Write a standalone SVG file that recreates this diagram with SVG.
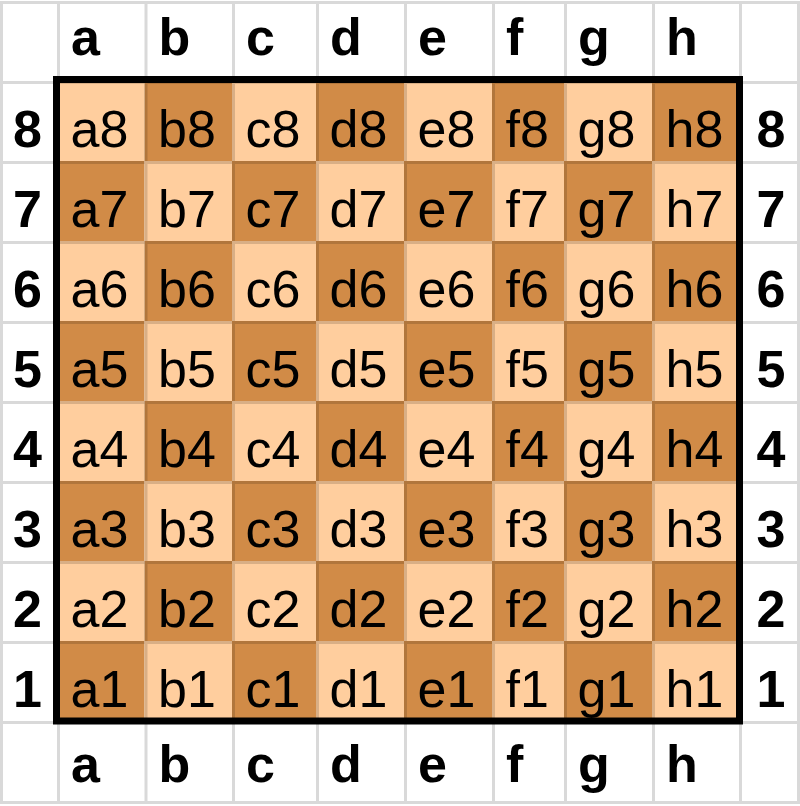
<svg xmlns="http://www.w3.org/2000/svg" width="800" height="806" viewBox="0 0 800 806">
<style>
  .L{fill:#ffce9e}
  .D{fill:#d18b47}
  .t{font-family:"Liberation Sans",Arial,sans-serif;font-size:52px;fill:#000}
  .lb{font-family:"Liberation Sans",Arial,sans-serif;font-size:52px;font-weight:bold;fill:#000}
  .mid{text-anchor:middle}
  .grid{fill:none;stroke:#000;stroke-opacity:0.15;stroke-width:3}
  .border{fill:none;stroke:#000;stroke-width:7}
</style>
<rect x="0" y="0" width="800" height="806" fill="#fff"/>
<g id="board">
<g id="rank8" transform="translate(0,81)">
<g id="a8"><rect class="L" x="57" y="0" width="87.5" height="80"/><text class="t" x="70.5" y="66">a8</text></g>
<g id="b8"><rect class="D" x="144.5" y="0" width="87.5" height="80"/><text class="t" x="158" y="66">b8</text></g>
<g id="c8"><rect class="L" x="232" y="0" width="84" height="80"/><text class="t" x="245.5" y="66">c8</text></g>
<g id="d8"><rect class="D" x="316" y="0" width="88" height="80"/><text class="t" x="329.5" y="66">d8</text></g>
<g id="e8"><rect class="L" x="404" y="0" width="88" height="80"/><text class="t" x="417.5" y="66">e8</text></g>
<g id="f8"><rect class="D" x="492" y="0" width="72" height="80"/><text class="t" x="505.5" y="66">f8</text></g>
<g id="g8"><rect class="L" x="564" y="0" width="88" height="80"/><text class="t" x="577.5" y="66">g8</text></g>
<g id="h8"><rect class="D" x="652" y="0" width="87" height="80"/><text class="t" x="665.5" y="66">h8</text></g>
</g>
<g id="rank7" transform="translate(0,161)">
<g id="a7"><rect class="D" x="57" y="0" width="87.5" height="80"/><text class="t" x="70.5" y="66">a7</text></g>
<g id="b7"><rect class="L" x="144.5" y="0" width="87.5" height="80"/><text class="t" x="158" y="66">b7</text></g>
<g id="c7"><rect class="D" x="232" y="0" width="84" height="80"/><text class="t" x="245.5" y="66">c7</text></g>
<g id="d7"><rect class="L" x="316" y="0" width="88" height="80"/><text class="t" x="329.5" y="66">d7</text></g>
<g id="e7"><rect class="D" x="404" y="0" width="88" height="80"/><text class="t" x="417.5" y="66">e7</text></g>
<g id="f7"><rect class="L" x="492" y="0" width="72" height="80"/><text class="t" x="505.5" y="66">f7</text></g>
<g id="g7"><rect class="D" x="564" y="0" width="88" height="80"/><text class="t" x="577.5" y="66">g7</text></g>
<g id="h7"><rect class="L" x="652" y="0" width="87" height="80"/><text class="t" x="665.5" y="66">h7</text></g>
</g>
<g id="rank6" transform="translate(0,241)">
<g id="a6"><rect class="L" x="57" y="0" width="87.5" height="80"/><text class="t" x="70.5" y="66">a6</text></g>
<g id="b6"><rect class="D" x="144.5" y="0" width="87.5" height="80"/><text class="t" x="158" y="66">b6</text></g>
<g id="c6"><rect class="L" x="232" y="0" width="84" height="80"/><text class="t" x="245.5" y="66">c6</text></g>
<g id="d6"><rect class="D" x="316" y="0" width="88" height="80"/><text class="t" x="329.5" y="66">d6</text></g>
<g id="e6"><rect class="L" x="404" y="0" width="88" height="80"/><text class="t" x="417.5" y="66">e6</text></g>
<g id="f6"><rect class="D" x="492" y="0" width="72" height="80"/><text class="t" x="505.5" y="66">f6</text></g>
<g id="g6"><rect class="L" x="564" y="0" width="88" height="80"/><text class="t" x="577.5" y="66">g6</text></g>
<g id="h6"><rect class="D" x="652" y="0" width="87" height="80"/><text class="t" x="665.5" y="66">h6</text></g>
</g>
<g id="rank5" transform="translate(0,321)">
<g id="a5"><rect class="D" x="57" y="0" width="87.5" height="80"/><text class="t" x="70.5" y="66">a5</text></g>
<g id="b5"><rect class="L" x="144.5" y="0" width="87.5" height="80"/><text class="t" x="158" y="66">b5</text></g>
<g id="c5"><rect class="D" x="232" y="0" width="84" height="80"/><text class="t" x="245.5" y="66">c5</text></g>
<g id="d5"><rect class="L" x="316" y="0" width="88" height="80"/><text class="t" x="329.5" y="66">d5</text></g>
<g id="e5"><rect class="D" x="404" y="0" width="88" height="80"/><text class="t" x="417.5" y="66">e5</text></g>
<g id="f5"><rect class="L" x="492" y="0" width="72" height="80"/><text class="t" x="505.5" y="66">f5</text></g>
<g id="g5"><rect class="D" x="564" y="0" width="88" height="80"/><text class="t" x="577.5" y="66">g5</text></g>
<g id="h5"><rect class="L" x="652" y="0" width="87" height="80"/><text class="t" x="665.5" y="66">h5</text></g>
</g>
<g id="rank4" transform="translate(0,401)">
<g id="a4"><rect class="L" x="57" y="0" width="87.5" height="80"/><text class="t" x="70.5" y="66">a4</text></g>
<g id="b4"><rect class="D" x="144.5" y="0" width="87.5" height="80"/><text class="t" x="158" y="66">b4</text></g>
<g id="c4"><rect class="L" x="232" y="0" width="84" height="80"/><text class="t" x="245.5" y="66">c4</text></g>
<g id="d4"><rect class="D" x="316" y="0" width="88" height="80"/><text class="t" x="329.5" y="66">d4</text></g>
<g id="e4"><rect class="L" x="404" y="0" width="88" height="80"/><text class="t" x="417.5" y="66">e4</text></g>
<g id="f4"><rect class="D" x="492" y="0" width="72" height="80"/><text class="t" x="505.5" y="66">f4</text></g>
<g id="g4"><rect class="L" x="564" y="0" width="88" height="80"/><text class="t" x="577.5" y="66">g4</text></g>
<g id="h4"><rect class="D" x="652" y="0" width="87" height="80"/><text class="t" x="665.5" y="66">h4</text></g>
</g>
<g id="rank3" transform="translate(0,481)">
<g id="a3"><rect class="D" x="57" y="0" width="87.5" height="80"/><text class="t" x="70.5" y="66">a3</text></g>
<g id="b3"><rect class="L" x="144.5" y="0" width="87.5" height="80"/><text class="t" x="158" y="66">b3</text></g>
<g id="c3"><rect class="D" x="232" y="0" width="84" height="80"/><text class="t" x="245.5" y="66">c3</text></g>
<g id="d3"><rect class="L" x="316" y="0" width="88" height="80"/><text class="t" x="329.5" y="66">d3</text></g>
<g id="e3"><rect class="D" x="404" y="0" width="88" height="80"/><text class="t" x="417.5" y="66">e3</text></g>
<g id="f3"><rect class="L" x="492" y="0" width="72" height="80"/><text class="t" x="505.5" y="66">f3</text></g>
<g id="g3"><rect class="D" x="564" y="0" width="88" height="80"/><text class="t" x="577.5" y="66">g3</text></g>
<g id="h3"><rect class="L" x="652" y="0" width="87" height="80"/><text class="t" x="665.5" y="66">h3</text></g>
</g>
<g id="rank2" transform="translate(0,561)">
<g id="a2"><rect class="L" x="57" y="0" width="87.5" height="80"/><text class="t" x="70.5" y="66">a2</text></g>
<g id="b2"><rect class="D" x="144.5" y="0" width="87.5" height="80"/><text class="t" x="158" y="66">b2</text></g>
<g id="c2"><rect class="L" x="232" y="0" width="84" height="80"/><text class="t" x="245.5" y="66">c2</text></g>
<g id="d2"><rect class="D" x="316" y="0" width="88" height="80"/><text class="t" x="329.5" y="66">d2</text></g>
<g id="e2"><rect class="L" x="404" y="0" width="88" height="80"/><text class="t" x="417.5" y="66">e2</text></g>
<g id="f2"><rect class="D" x="492" y="0" width="72" height="80"/><text class="t" x="505.5" y="66">f2</text></g>
<g id="g2"><rect class="L" x="564" y="0" width="88" height="80"/><text class="t" x="577.5" y="66">g2</text></g>
<g id="h2"><rect class="D" x="652" y="0" width="87" height="80"/><text class="t" x="665.5" y="66">h2</text></g>
</g>
<g id="rank1" transform="translate(0,641)">
<g id="a1"><rect class="D" x="57" y="0" width="87.5" height="80"/><text class="t" x="70.5" y="66">a1</text></g>
<g id="b1"><rect class="L" x="144.5" y="0" width="87.5" height="80"/><text class="t" x="158" y="66">b1</text></g>
<g id="c1"><rect class="D" x="232" y="0" width="84" height="80"/><text class="t" x="245.5" y="66">c1</text></g>
<g id="d1"><rect class="L" x="316" y="0" width="88" height="80"/><text class="t" x="329.5" y="66">d1</text></g>
<g id="e1"><rect class="D" x="404" y="0" width="88" height="80"/><text class="t" x="417.5" y="66">e1</text></g>
<g id="f1"><rect class="L" x="492" y="0" width="72" height="80"/><text class="t" x="505.5" y="66">f1</text></g>
<g id="g1"><rect class="D" x="564" y="0" width="88" height="80"/><text class="t" x="577.5" y="66">g1</text></g>
<g id="h1"><rect class="L" x="652" y="0" width="87" height="80"/><text class="t" x="665.5" y="66">h1</text></g>
</g>
</g>
<g id="gridlines">
<path class="grid" d="M1.5 2.5V802.5M58.5 2.5V802.5M146 2.5V802.5M233.5 2.5V802.5M317.5 2.5V802.5M405.5 2.5V802.5M493.5 2.5V802.5M565.5 2.5V802.5M653.5 2.5V802.5M740.5 2.5V802.5M798.5 2.5V802.5M0 2.5H800M0 82.5H800M0 162.5H800M0 242.5H800M0 322.5H800M0 402.5H800M0 482.5H800M0 562.5H800M0 642.5H800M0 722.5H800M0 802.5H800"/>
</g>
<g id="file-labels-top">
<text class="lb" x="71" y="55">a</text>
<text class="lb" x="158.5" y="55">b</text>
<text class="lb" x="246" y="55">c</text>
<text class="lb" x="330" y="55">d</text>
<text class="lb" x="418" y="55">e</text>
<text class="lb" x="506" y="55">f</text>
<text class="lb" x="578" y="55">g</text>
<text class="lb" x="666" y="55">h</text>
</g>
<g id="file-labels-bottom">
<text class="lb" x="71" y="782">a</text>
<text class="lb" x="158.5" y="782">b</text>
<text class="lb" x="246" y="782">c</text>
<text class="lb" x="330" y="782">d</text>
<text class="lb" x="418" y="782">e</text>
<text class="lb" x="506" y="782">f</text>
<text class="lb" x="578" y="782">g</text>
<text class="lb" x="666" y="782">h</text>
</g>
<g id="rank-labels-left">
<text class="lb mid" x="27.5" y="147">8</text>
<text class="lb mid" x="27.5" y="227">7</text>
<text class="lb mid" x="27.5" y="307">6</text>
<text class="lb mid" x="27.5" y="387">5</text>
<text class="lb mid" x="27.5" y="467">4</text>
<text class="lb mid" x="27.5" y="547">3</text>
<text class="lb mid" x="27.5" y="627">2</text>
<text class="lb mid" x="27.5" y="707">1</text>
</g>
<g id="rank-labels-right">
<text class="lb mid" x="771" y="147">8</text>
<text class="lb mid" x="771" y="227">7</text>
<text class="lb mid" x="771" y="307">6</text>
<text class="lb mid" x="771" y="387">5</text>
<text class="lb mid" x="771" y="467">4</text>
<text class="lb mid" x="771" y="547">3</text>
<text class="lb mid" x="771" y="627">2</text>
<text class="lb mid" x="771" y="707">1</text>
</g>
<rect id="board-border" class="border" x="56.5" y="79.5" width="683" height="641.5"/>
</svg>
